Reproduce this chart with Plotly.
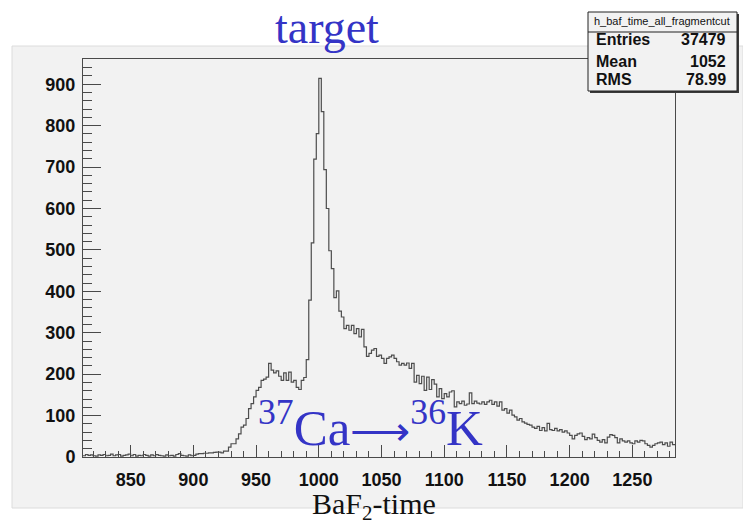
import plotly.graph_objects as go

# ---- data ----
bin_start = 812
bin_width = 2
counts = [
    3, 6, 4, 5, 3, 2, 5, 4, 6, 3,
    4, 7, 3, 5, 6, 2, 4, 5, 7, 3,
    6, 2, 4, 3, 6, 4, 2, 5, 3, 6,
    4, 3, 2, 5, 3, 4, 2, 6, 8, 4,
    3, 2, 5, 3, 4, 7, 8, 8, 9, 9,
    10, 10, 11, 12,
    12, 10, 14, 14, 24, 32, 32, 44, 56, 72,
    77, 93, 117, 129, 145, 161, 168, 185, 188, 193,
    226, 210, 203, 208, 195, 185, 203, 185, 205, 181,
    185, 168, 163, 185, 192,
    235, 379, 517, 719, 781, 914, 834, 694, 600, 498,
    455, 385, 401, 352, 338, 310, 318, 306, 318, 298,
    310, 290, 308, 266, 243, 250, 258, 262, 243, 246,
    238, 226, 238, 242, 246, 238, 230, 222, 226, 222,
    227, 214, 226, 181, 197, 177, 195, 161, 193, 163,
    187, 176, 145, 165, 141, 153, 145, 157, 160, 121,
    133, 129, 135, 125, 128, 155, 129, 135, 130, 128,
    133, 127, 133, 137, 127, 133, 123, 133, 113, 117,
    106, 113, 101, 97, 89, 93, 85, 82, 79, 77,
    72, 69, 74, 64, 71, 63, 81, 66, 64, 69,
    63, 66, 60, 63, 58, 52, 44, 52, 56, 58,
    50, 42, 47, 44, 55, 47, 40, 36, 42, 34,
    48, 54, 52, 47, 34, 44, 39, 36, 39, 34,
    32, 39, 36, 40, 39, 32, 28, 24, 28, 32,
    34, 36, 30, 34, 26, 36, 30,
]
x_ticks = [850, 900, 950, 1000, 1050, 1100, 1150, 1200, 1250]
y_ticks = [0, 100, 200, 300, 400, 500, 600, 700, 800, 900]
stats_name = "h_baf_time_all_fragmentcut"
stats_labels = ["Entries", "Mean", "RMS"]
stats_values = ["37479", "1052", "78.99"]
title_text = "target"
reaction_text = ("<sup>37</sup>Ca<span style='font-family:DejaVu Sans;font-size:42px;font-weight:200'>\u27f6</span>"
                 "<sup>36</sup>K")
xtitle_text = "BaF<sub>2</sub>-time"

# ---- build step outline ----
edges = [bin_start + i * bin_width for i in range(len(counts) + 1)]
ys = counts + [counts[-1]]

W, H = 743, 525
L, R, T, B = 83, 675, 59, 457
pw, ph = R - L, B - T


def px(x):
    return (x - L) / pw


def py(y):
    return (B - y) / ph


BLUE = "#3434c6"
GREY_BG = "#f2f2f2"
FRAME = "#4a4a4a"

fig = go.Figure()
fig.add_trace(go.Scatter(
    x=edges, y=ys, mode="lines", line=dict(shape="hv", color="#4d4d4d", width=1.2),
    hoverinfo="skip", showlegend=False,
))

shapes = [
    dict(type="rect", xref="paper", yref="paper", x0=px(12), x1=px(743), y0=py(508), y1=py(46),
         fillcolor=GREY_BG, line=dict(color="#dcdcdc", width=1), layer="below"),
    dict(type="rect", xref="paper", yref="paper", x0=px(590), x1=px(739), y0=py(93), y1=py(14),
         fillcolor="#3a3a3a", line=dict(width=0), layer="above"),
    dict(type="rect", xref="paper", yref="paper", x0=px(588), x1=px(737), y0=py(91), y1=py(12),
         fillcolor=GREY_BG, line=dict(color="#222222", width=1), layer="above"),
    dict(type="line", xref="paper", yref="paper", x0=px(588), x1=px(737), y0=py(32), y1=py(32),
         line=dict(color="#222222", width=1), layer="above"),
]

annotations = [
    dict(text=title_text, xref="paper", yref="paper", x=px(327), y=py(27), showarrow=False,
         xanchor="center", yanchor="middle",
         font=dict(family="Liberation Serif", size=46, color=BLUE)),
    dict(text=reaction_text, xref="paper", yref="paper", x=px(370), y=py(424), showarrow=False,
         xanchor="center", yanchor="middle",
         font=dict(family="Liberation Serif", size=51, color=BLUE)),
    dict(text=xtitle_text, xref="paper", yref="paper", x=px(374), y=py(506), showarrow=False,
         xanchor="center", yanchor="middle",
         font=dict(family="Liberation Serif", size=30, color="#111111")),
    dict(text=stats_name, xref="paper", yref="paper", x=px(662), y=py(21), showarrow=False,
         xanchor="center", yanchor="middle",
         font=dict(family="Liberation Sans Narrow, Liberation Sans", size=11, color="#111111")),
]
row_y = [40, 61, 80]
for lab, val, ry in zip(stats_labels, stats_values, row_y):
    annotations.append(dict(text=lab, xref="paper", yref="paper", x=px(594), y=py(ry), showarrow=False,
                            xanchor="left", yanchor="middle",
                            font=dict(family="Liberation Sans", size=16, color="#111111", weight="bold")))
    annotations.append(dict(text=val, xref="paper", yref="paper", x=px(728), y=py(ry), showarrow=False,
                            xanchor="right", yanchor="middle",
                            font=dict(family="Liberation Sans", size=16, color="#111111", weight="bold")))

fig.update_layout(
    width=W, height=H,
    margin=dict(l=L, r=W - R, t=T, b=H - B, pad=0),
    paper_bgcolor="white", plot_bgcolor=GREY_BG,
    shapes=shapes, annotations=annotations,
    showlegend=False,
    xaxis=dict(
        range=[812, 1284], tickvals=x_ticks, ticktext=[str(v) for v in x_ticks],
        ticks="inside", ticklen=12, tickwidth=1, tickcolor=FRAME,
        minor=dict(ticks="inside", ticklen=6, dtick=10, tick0=850, tickcolor=FRAME, showgrid=False),
        showgrid=False, zeroline=False,
        showline=True, mirror=True, linecolor=FRAME, linewidth=1,
        tickfont=dict(family="Liberation Sans", size=18, color="#111111", weight="bold"),
        ticklabelstandoff=6,
    ),
    yaxis=dict(
        range=[0, 961], tickvals=y_ticks, ticktext=[str(v) for v in y_ticks],
        ticks="inside", ticklen=18, tickwidth=1, tickcolor=FRAME,
        minor=dict(ticks="inside", ticklen=9, dtick=20, tick0=0, tickcolor=FRAME, showgrid=False),
        showgrid=False, zeroline=False,
        showline=True, mirror=True, linecolor=FRAME, linewidth=1,
        tickfont=dict(family="Liberation Sans", size=18, color="#111111", weight="bold"),
        ticklabelstandoff=3,
    ),
)

fig.write_html("out.html")
